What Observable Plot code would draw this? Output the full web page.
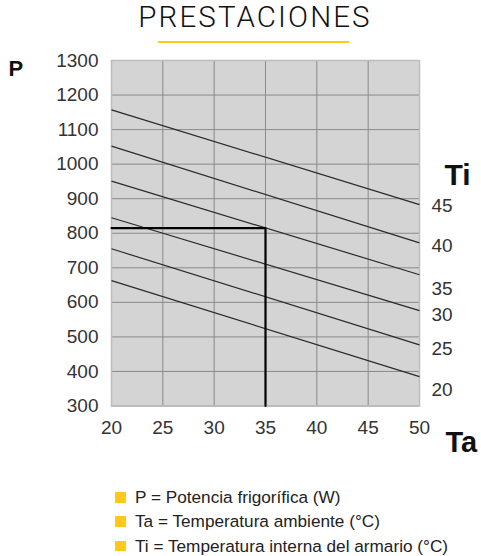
<!DOCTYPE html>
<html>
<head>
<meta charset="utf-8">
<script src="https://cdn.jsdelivr.net/npm/d3@7"></script>
<script src="https://cdn.jsdelivr.net/npm/@observablehq/plot@0.6"></script>
<style>
  html, body { margin: 0; padding: 0; background: #fff; }
  #page { position: relative; width: 481px; height: 556px; overflow: hidden; font-family: "Liberation Sans", Arial, sans-serif; }
  #title { position: absolute; left: 2px; width: 506px; top: 3px; text-align: center; font-family: Roboto, "Liberation Sans", sans-serif; font-weight: 300; font-size: 29.5px; letter-spacing: 2.1px; line-height: 29.5px; color: #111; }
  #rule { position: absolute; left: 158px; width: 191px; top: 40.5px; height: 2.5px; background: #ffcc14; }
  #chart { position: absolute; left: 0; top: 50px; }
  .leg { position: absolute; left: 115px; height: 24px; display: flex; align-items: center; font-size: 17.2px; color: #222; white-space: nowrap; }
  .leg span.sq { display: inline-block; width: 10.5px; height: 10.5px; background: #ffc81a; margin-right: 9.5px; }
</style>
</head>
<body>
<div id="page">
  <div id="title"></div>
  <div id="rule"></div>
  <div id="chart"></div>
  <div id="legend"></div>
</div>
<script>
const titleText = "PRESTACIONES";
const xTicks = [20, 25, 30, 35, 40, 45, 50];
const yTicks = [300, 400, 500, 600, 700, 800, 900, 1000, 1100, 1200, 1300];
const tiValues = [45, 40, 35, 30, 25, 20];
const pAtTa20 = [1157, 1052, 951, 845, 755, 663];
const pAtTa50 = [883, 772, 680, 576, 477, 385];
const tiLabelP = [880, 762, 639, 564, 466, 347];
const opTa = 35;
const opP = 815;
const legendItems = [
  "P = Potencia frigorífica (W)",
  "Ta = Temperatura ambiente (°C)",
  "Ti = Temperatura interna del armario (°C)"
];

document.getElementById("title").textContent = titleText;

const tiLines = tiValues.map((t, i) => ({ti: t, p20: pAtTa20[i], p50: pAtTa50[i]}));
const tiLabels = tiValues.map((t, i) => ({ti: String(t), p: tiLabelP[i]}));
const opPath = [{ta: xTicks[0], p: opP}, {ta: opTa, p: opP}, {ta: opTa, p: yTicks[0]}];

const chart = Plot.plot({
  width: 481,
  height: 410,
  marginLeft: 111,
  marginRight: 62,
  marginTop: 10,
  marginBottom: 54.5,
  style: {fontFamily: "'Liberation Sans', Arial, sans-serif", fontSize: "19px", color: "#333", background: "transparent", overflow: "visible"},
  x: {domain: [20, 50], ticks: xTicks, tickSize: 0, tickPadding: 14, label: null},
  y: {domain: [300, 1300], ticks: yTicks, tickSize: 0, tickPadding: 13, label: null},
  marks: [
    Plot.frame({fill: "#d4d4d4"}),
    Plot.gridX(xTicks, {stroke: "#8a8a8a", strokeOpacity: 1, strokeWidth: 1}),
    Plot.gridY(yTicks, {stroke: "#8a8a8a", strokeOpacity: 1, strokeWidth: 1}),
    Plot.frame({stroke: "#bdbdbd", strokeWidth: 1.5}),
    Plot.link(tiLines, {x1: () => 20, x2: () => 50, y1: "p20", y2: "p50", stroke: "#2a2a2a", strokeWidth: 1.2}),
    Plot.line(opPath, {x: "ta", y: "p", stroke: "#000", strokeWidth: 2.2}),
    Plot.text(tiLabels, {x: () => 50, y: "p", text: "ti", textAnchor: "start", dx: 12, fill: "#333", fontSize: 19}),
    Plot.text(["P"], {frameAnchor: "top-left", dx: -103, dy: 15, lineAnchor: "bottom", textAnchor: "start", fontWeight: "bold", fontSize: 22, fill: "#111"}),
    Plot.text(["Ti"], {frameAnchor: "top-right", dx: 25, dy: 124.3, lineAnchor: "bottom", textAnchor: "start", fontWeight: "bold", fontSize: 30, fill: "#111"}),
    Plot.text(["Ta"], {frameAnchor: "bottom-right", dx: 26, dy: 46.2, lineAnchor: "bottom", textAnchor: "start", fontWeight: "bold", fontSize: 29, fill: "#111"}),
    Plot.axisX({ticks: xTicks, tickSize: 0, tickPadding: 14, label: null, tickFormat: "d"}),
    Plot.axisY({ticks: yTicks, tickSize: 0, tickPadding: 13, label: null, tickFormat: "d"})
  ]
});
document.getElementById("chart").appendChild(chart);

const rowCenters = [497.7, 521.7, 546];
const legend = document.getElementById("legend");
legendItems.forEach((t, i) => {
  const d = document.createElement("div");
  d.className = "leg";
  d.style.top = (rowCenters[i] - 12) + "px";
  const sq = document.createElement("span");
  sq.className = "sq";
  d.appendChild(sq);
  d.appendChild(document.createTextNode(t));
  legend.appendChild(d);
});
</script>
</body>
</html>
